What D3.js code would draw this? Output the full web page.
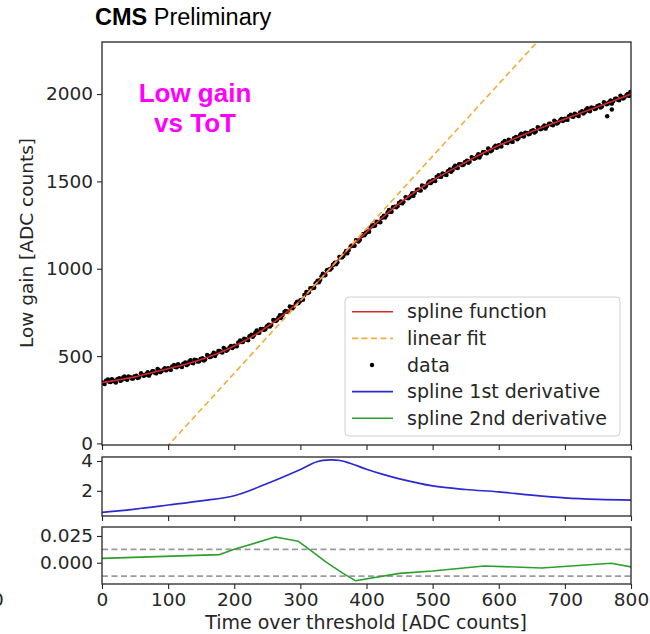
<!DOCTYPE html>
<html><head><meta charset="utf-8">
<script src="https://cdn.jsdelivr.net/npm/d3@7"></script>
<style>
html,body{margin:0;padding:0;background:#fff;}
svg{display:block;}
</style></head>
<body>
<svg id="chart" width="650" height="634"></svg>
<script>
// ---------------- DATA ----------------
const splineTot = [0,25,50,75,100,125,150,175,200,225,250,275,300,325,350,375,400,450,500,550,600,650,700,750,800];
const splineVals = [348,364,381,405,428,452,480,515,558,607,668,738,818,918,1022,1120,1210,1375,1505,1610,1705,1785,1857,1928,2000];

const dataTot = [2,6,11,15,19,23,28,32,36,40,45,49, 52,56,61,65,69,73,78,82,86,90,95,99, 102,106,111,115,119,123,128,132,136,140,145,149, 152,156,161,165,169,173,178,182,186,190,195,199, 202,206,211,215,219,223,228,232,236,240,245,249, 252,256,261,265,269,273,278,282,286,290,295,299, 302,306,311,315,319,323,328,332,336,340,345,349, 352,356,361,365,369,373,378,382,386,390,395,399, 402,406,411,415,419,423,428,432,436,440,445,449, 452,456,461,465,469,473,478,482,486,490,495,499, 502,506,511,515,519,523,528,532,536,540,545,549, 552,556,561,565,569,573,578,582,586,590,595,599, 602,606,611,615,619,623,628,632,636,640,645,649, 652,656,661,665,669,673,678,682,686,690,695,699, 702,706,711,715,719,723,728,732,736,740,745,749, 752,756,761,764,765,769,771,773,778,782,786,790,795,799,
  0,4,9,13,17,21,26,30,34,38,43,47, 50,54,59,63,67,71,76,80,84,88,93,97, 100,104,109,113,117,121,126,130,134,138,143,147, 150,154,159,163,167,171,176,180,184,188,193,197, 200,204,209,213,217,221,226,230,234,238,243,247, 250,254,259,263,267,271,276,280,284,288,293,297, 300,304,309,313,317,321,326,330,334,338,343,347, 350,354,359,363,367,371,376,380,384,388,393,397, 400,404,409,413,417,421,426,430,434,438,443,447, 450,454,459,463,467,471,476,480,484,488,493,497, 500,504,509,513,517,521,526,530,534,538,543,547, 550,554,559,563,567,571,576,580,584,588,593,597, 600,604,609,613,617,621,626,630,634,638,643,647, 650,654,659,663,667,671,676,680,684,688,693,697, 700,704,709,713,717,721,726,730,734,738,743,747, 750,754,759,763,767,771,776,780,784,788,793,797];
const dataVals = [345,359,353,367,355,368,358,377,369,384,371,384, 388,379,394,390,408,401,413,401,419,413,431,424, 426,441,437,453,442,457,448,469,462,480,468,483, 488,481,500,498,519,514,530,520,540,536,558,553, 558,578,580,600,594,614,611,636,634,656,650,670, 679,678,704,708,734,735,758,754,780,782,811,812, 822,850,861,888,890,917,923,957,962,991,995,1022, 1035,1037,1066,1073,1102,1106,1133,1132,1161,1166,1199,1203, 1213,1237,1244,1269,1267,1291,1293,1324,1326,1352,1352,1376, 1385,1383,1407,1409,1433,1433,1454,1448,1473,1473,1500,1499, 1505,1525,1526,1546,1539,1558,1555,1580,1578,1599,1593,1612, 1619,1613,1634,1634,1655,1652,1669,1661,1682,1680,1704,1700, 1704,1722,1721,1738,1729,1747,1741,1764,1760,1779,1770,1787, 1793,1786,1804,1802,1821,1816,1831,1821,1841,1837,1858,1853, 1856,1873,1871,1887,1878,1895,1888,1910,1905,1924,1914,1931, 1936,1929,1947,1873,1945,1964,1912,1959,1974,1964,1984,1980,2001,2012,
  350,340,366,351,360,349,373,364,384,364,379,372, 383,374,402,387,398,388,413,405,427,408,424,418, 430,421,449,436,447,437,463,455,477,459,476,470, 482,475,506,494,508,500,529,523,547,530,550,546, 560,556,590,581,596,591,623,620,647,633,656,654, 670,669,707,701,720,718,754,754,784,773,800,802, 820,823,867,865,888,891,932,936,971,964,996,1003, 1024,1026,1068,1065,1087,1088,1128,1131,1164,1156,1187,1192, 1212,1212,1252,1247,1267,1266,1304,1305,1336,1326,1355,1358, 1377,1374,1410,1403,1420,1417,1451,1449,1477,1465,1490,1490, 1507,1502,1536,1526,1542,1536,1568,1564,1590,1576,1598,1597, 1612,1607,1639,1629,1643,1637,1667,1663,1689,1673,1695,1692, 1707,1700,1731,1720,1733,1726,1755,1749,1773,1757,1777,1773, 1787,1780,1810,1798,1811,1802,1830,1824,1848,1831,1850,1846, 1859,1852,1882,1870,1882,1874,1902,1896,1919,1902,1921,1917, 1930,1923,1953,1941,1954,1945,1973,1967,1991,1974,1993,1989];

const linSlope = 4.14;
const linIntercept = -426;

const d1Tot = [0,50,100,150,200,250,300,325,345,360,375,400,425,450,500,550,600,650,700,750,800];
const d1Vals = [0.56,0.78,1.05,1.33,1.67,2.49,3.43,3.95,4.07,4.03,3.85,3.45,3.10,2.80,2.33,2.09,1.93,1.71,1.53,1.43,1.38];

const d2Tot = [0,178,200,262,297,314,339,364,383,450,500,578,665,770,800];
const d2Vals = [0.0041,0.0076,0.0125,0.0240,0.0200,0.0122,0.0005,-0.0097,-0.0168,-0.0100,-0.0078,-0.0030,-0.0049,-0.0005,-0.0039];
const d2Limits = [0.0125,-0.0125];

const xTicks = [0,100,200,300,400,500,600,700,800];
const yTicksMain = [0,500,1000,1500,2000];
const yTicksD1 = [2,4];
const yTicksD2 = [0,0.025];
const legendLabels = ["spline function","linear fit","data","spline 1st derivative","spline 2nd derivative"];

// ---------------- LAYOUT ----------------
const svg = d3.select("#chart");
const X0 = 102, X1 = 631;
const panels = {
  main: {top:42, bottom:445, domain:[-9,2298]},
  d1:   {top:457, bottom:516, domain:[0.313,4.267]},
  d2:   {top:527, bottom:584, domain:[-0.0199,0.0334]}
};
const FONT = "'DejaVu Sans', sans-serif";
const AXC = "#262626";
const x = d3.scaleLinear().domain([0,800]).range([X0,X1]);
const yMain = d3.scaleLinear().domain(panels.main.domain).range([panels.main.bottom, panels.main.top]);
const yD1 = d3.scaleLinear().domain(panels.d1.domain).range([panels.d1.bottom, panels.d1.top]);
const yD2 = d3.scaleLinear().domain(panels.d2.domain).range([panels.d2.bottom, panels.d2.top]);

const defs = svg.append("defs");
function clip(id, p){
  defs.append("clipPath").attr("id",id).append("rect")
    .attr("x",X0).attr("y",p.top).attr("width",X1-X0).attr("height",p.bottom-p.top);
}
clip("cMain",panels.main); clip("cD1",panels.d1); clip("cD2",panels.d2);

function styleAxis(g){
  g.select(".domain").remove();
  g.selectAll(".tick line").attr("stroke",AXC).attr("stroke-width",1.1);
  g.selectAll(".tick text").attr("fill",AXC).style("font-family",FONT).style("font-size","18.5px");
}

function drawAxes(p, yScale, yTicks, fmt, showX){
  const xa = d3.axisBottom(x).tickValues(xTicks).tickSize(5).tickPadding(4);
  if(!showX) xa.tickFormat("");
  svg.append("g").attr("transform",`translate(0,${p.bottom})`).call(xa).call(styleAxis);
  const ya = d3.axisLeft(yScale).tickValues(yTicks).tickSize(5).tickPadding(4).tickFormat(fmt);
  svg.append("g").attr("transform",`translate(${X0},0)`).call(ya).call(styleAxis);
  svg.append("rect").attr("x",X0).attr("y",p.top).attr("width",X1-X0).attr("height",p.bottom-p.top)
    .attr("fill","none").attr("stroke",AXC).attr("stroke-width",1.3);
}

// ---------------- MAIN PANEL ----------------
const gMain = svg.append("g").attr("clip-path","url(#cMain)");
gMain.selectAll("circle.dot").data(dataTot.map((t,i)=>[t,dataVals[i]])).join("circle")
  .attr("class","dot").attr("cx",d=>x(d[0])).attr("cy",d=>yMain(d[1])).attr("r",2.2).attr("fill","#000");
const lineMain = d3.line().x(d=>x(d[0])).y(d=>yMain(d[1])).curve(d3.curveMonotoneX);
gMain.append("path").datum(splineTot.map((t,i)=>[t,splineVals[i]]))
  .attr("d",lineMain).attr("fill","none").attr("stroke","#d62728").attr("stroke-width",1.6);
const linPts = [0,800].map(t=>[t, linSlope*t+linIntercept]);
gMain.append("path").datum(linPts).attr("d",d3.line().x(d=>x(d[0])).y(d=>yMain(d[1])))
  .attr("fill","none").attr("stroke","#f2ad3a").attr("stroke-width",1.6).attr("stroke-dasharray","6,3.5");
drawAxes(panels.main, yMain, yTicksMain, d3.format("d"), false);

// ---------------- DERIVATIVE PANELS ----------------
const gD1 = svg.append("g").attr("clip-path","url(#cD1)");
gD1.append("path").datum(d1Tot.map((t,i)=>[t,d1Vals[i]]))
  .attr("d",d3.line().x(d=>x(d[0])).y(d=>yD1(d[1])).curve(d3.curveCatmullRom.alpha(0.5)))
  .attr("fill","none").attr("stroke","#2a2ad2").attr("stroke-width",1.7);
drawAxes(panels.d1, yD1, yTicksD1, d3.format("d"), false);

const gD2 = svg.append("g").attr("clip-path","url(#cD2)");
gD2.selectAll("line.lim").data(d2Limits).join("line").attr("class","lim")
  .attr("x1",X0).attr("x2",X1).attr("y1",d=>yD2(d)).attr("y2",d=>yD2(d))
  .attr("stroke","#9a9a9a").attr("stroke-width",1.6).attr("stroke-dasharray","6,3.5");
gD2.append("path").datum(d2Tot.map((t,i)=>[t,d2Vals[i]]))
  .attr("d",d3.line().x(d=>x(d[0])).y(d=>yD2(d[1])))
  .attr("fill","none").attr("stroke","#2ca02c").attr("stroke-width",1.6).attr("stroke-linejoin","round");
drawAxes(panels.d2, yD2, yTicksD2, d3.format(".3f"), true);

// ---------------- LABELS ----------------
svg.append("text").attr("x",366).attr("y",629).attr("text-anchor","middle")
  .style("font-family",FONT).style("font-size","19px").attr("fill",AXC)
  .text("Time over threshold [ADC counts]");
svg.append("text").attr("transform","translate(33,243) rotate(-90)").attr("text-anchor","middle")
  .style("font-family",FONT).style("font-size","18.5px").attr("fill",AXC)
  .text("Low gain [ADC counts]");
svg.append("text").attr("x",-8).attr("y",606)
  .style("font-family",FONT).style("font-size","18.5px").attr("fill",AXC).text("0");

const title = svg.append("text").attr("x",95).attr("y",25)
  .style("font-family","'Liberation Sans', Arial, sans-serif").style("font-size","23.5px").attr("fill","#000");
title.append("tspan").attr("font-weight","bold").text("CMS");
title.append("tspan").text(" Preliminary");

const ann = svg.append("text").attr("text-anchor","middle").attr("fill","#ff00ff")
  .style("font-family","'Liberation Sans', Arial, sans-serif").style("font-size","26px").attr("font-weight","bold");
ann.append("tspan").attr("x",195).attr("y",102).text("Low gain");
ann.append("tspan").attr("x",195).attr("y",132).text("vs ToT");

// ---------------- LEGEND ----------------
const lg = svg.append("g");
lg.append("rect").attr("x",345).attr("y",297).attr("width",275).attr("height",139).attr("rx",4)
  .attr("fill","#fff").attr("fill-opacity",0.85).attr("stroke","#d0d0d0").attr("stroke-width",1);
const legendStyles = [
  {type:"line", color:"#d62728", dash:null},
  {type:"line", color:"#f2ad3a", dash:"6,3.5"},
  {type:"dot", color:"#000"},
  {type:"line", color:"#2a2ad2", dash:null},
  {type:"line", color:"#2ca02c", dash:null}
];
legendLabels.forEach((lab,i)=>{
  const yy = 311.7 + i*26.65;
  const s = legendStyles[i];
  if(s.type==="line"){
    lg.append("line").attr("x1",352).attr("x2",393).attr("y1",yy).attr("y2",yy)
      .attr("stroke",s.color).attr("stroke-width",1.6).attr("stroke-dasharray",s.dash);
  } else {
    lg.append("circle").attr("cx",372).attr("cy",yy).attr("r",2.2).attr("fill",s.color);
  }
  lg.append("text").attr("x",407).attr("y",yy).attr("dy","0.35em")
    .style("font-family",FONT).style("font-size","19px").attr("fill",AXC).text(lab);
});
</script>
</body></html>
